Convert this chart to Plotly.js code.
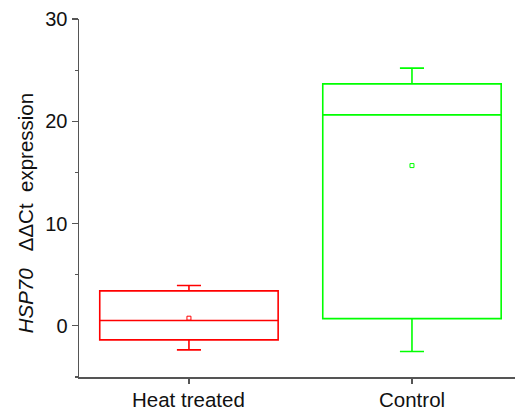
<!DOCTYPE html>
<html><head><meta charset="utf-8">
<script src="https://cdn.plot.ly/plotly-3.0.1.min.js"></script>
<style>html,body{margin:0;padding:0;background:#fff;}#chart{width:515px;height:410px;}</style>
</head><body><div id="chart"></div>
<script>
const categories = ["Heat treated", "Control"];
const colors = ["#ff0000", "#00ff00"];
const lowerWhisker = [-2.35, -2.5];
const q1 = [-1.37, 0.71];
const median = [0.52, 20.63];
const q3 = [3.42, 23.66];
const upperWhisker = [3.94, 25.2];
const mean = [0.75, 15.67];
const yTicks = [0, 10, 20, 30];
const yMinorTicks = [-5, 5, 15, 25];
const yTitle = '<i>HSP70</i>   ΔΔCt  expression';

const traces = [];
categories.forEach((c, i) => {
  traces.push({
    type: 'box', x: [c], q1: [q1[i]], median: [median[i]], q3: [q3[i]],
    lowerfence: [lowerWhisker[i]], upperfence: [upperWhisker[i]],
    width: 0.8, whiskerwidth: 0.135, boxpoints: false,
    fillcolor: 'rgba(0,0,0,0)', line: {color: colors[i], width: 1.6},
    hoverinfo: 'skip', showlegend: false
  });
  traces.push({
    type: 'scatter', mode: 'markers', x: [c], y: [mean[i]],
    marker: {symbol: 'square-open', size: 4, color: colors[i], line: {width: 1, color: colors[i]}},
    showlegend: false, hoverinfo: 'skip'
  });
});

const annotations = categories.map(c => ({
  text: c, showarrow: false, xref: 'x', yref: 'paper', x: c, y: -0.024,
  xanchor: 'center', yanchor: 'top', font: {size: 20.5, color: '#111'}
}));
annotations.push({
  text: yTitle, textangle: -90, showarrow: false,
  xref: 'paper', yref: 'paper', x: -0.124, y: 0.457,
  xanchor: 'center', yanchor: 'middle',
  font: {size: 20.5, color: '#111'}
});

const layout = {
  width: 515, height: 410,
  margin: {l: 79, r: 0, t: 19, b: 33},
  paper_bgcolor: '#fff', plot_bgcolor: '#fff',
  font: {family: 'Liberation Sans, Arial, sans-serif', color: '#111', size: 20},
  xaxis: {
    type: 'category', categoryorder: 'array', categoryarray: categories,
    range: [-0.493, 1.462], showgrid: false, zeroline: false,
    showline: true, linecolor: '#555', linewidth: 1.5,
    ticks: 'outside', ticklen: 5, tickcolor: '#555', tickwidth: 1.2,
    showticklabels: false
  },
  yaxis: {
    range: [-5, 30], tickvals: yTicks, showgrid: false, zeroline: false,
    showline: true, linecolor: '#555', linewidth: 1.5,
    ticks: 'outside', ticklen: 6, tickcolor: '#555', tickwidth: 1.2,
    minor: {tickvals: yMinorTicks, ticks: 'outside', ticklen: 3, tickcolor: '#555', tickwidth: 1.2},
    tickfont: {size: 20, color: '#111'}
  },
  annotations: annotations
};
Plotly.newPlot('chart', traces, layout, {displayModeBar: false, staticPlot: true});
</script></body></html>
